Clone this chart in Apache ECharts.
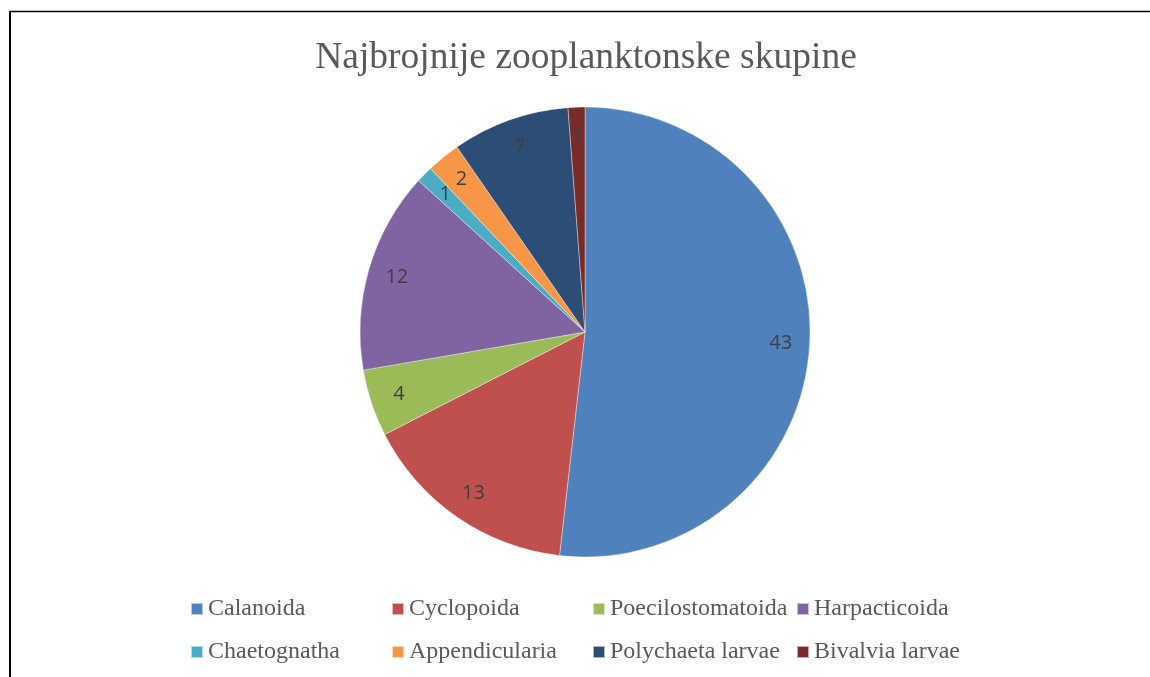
<!DOCTYPE html>
<html>
<head>
<meta charset="utf-8">
<script src="https://cdn.jsdelivr.net/npm/echarts@6/dist/echarts.min.js"></script>
<style>
  html, body { margin: 0; padding: 0; background: #fff; }
  #chart { width: 1150px; height: 677px; }
</style>
</head>
<body>
<div id="chart"></div>
<script>
var titleText = "Najbrojnije zooplanktonske skupine";
var groups = ["Calanoida", "Cyclopoida", "Poecilostomatoida", "Harpacticoida",
  "Chaetognatha", "Appendicularia", "Polychaeta larvae", "Bivalvia larvae"];
var counts = [43, 13, 4, 12, 1, 2, 7, 1];
var colors = ["#4F81BD", "#C0504D", "#9BBB59", "#8064A2",
  "#4BACC6", "#F79646", "#2C4D75", "#772C2A"];

var pieData = groups.map(function (g, i) {
  return { name: g, value: counts[i], itemStyle: { color: colors[i] } };
});

var serif = "'Liberation Serif', 'DejaVu Serif', serif";
var legendCols = [185, 386, 587, 791];
var legendRows = [592, 635];

// one legend per item so the entries sit on a fixed grid
var legends = groups.map(function (g, i) {
  return {
    data: [g],
    left: legendCols[i % 4],
    top: legendRows[Math.floor(i / 4)],
    icon: "rect",
    itemWidth: 12,
    itemHeight: 12,
    selectedMode: false,
    textStyle: {
      fontFamily: serif,
      fontSize: 24,
      color: "#595959"
    }
  };
});

var chart = echarts.init(document.getElementById("chart"));
var option = {
  animation: false,
  color: colors,
  title: {
    text: titleText,
    left: 581,
    textAlign: "center",
    top: 34,
    textStyle: {
      fontFamily: serif,
      fontSize: 37.5,
      fontWeight: "normal",
      color: "#595959"
    }
  },
  legend: legends,
  graphic: [
    { type: "line", shape: { x1: 10, y1: 11.5, x2: 1150, y2: 11.5 }, style: { stroke: "#000", lineWidth: 1.5 } },
    { type: "line", shape: { x1: 10, y1: 11, x2: 10, y2: 677 }, style: { stroke: "#000", lineWidth: 2 } }
  ],
  series: [
    {
      type: "pie",
      center: [585, 332],
      radius: [0, 225],
      startAngle: 90,
      clockwise: true,
      label: { show: false },
      labelLine: { show: false },
      itemStyle: { borderColor: "rgba(255,255,255,0.6)", borderWidth: 0.6 },
      data: pieData
    },
    {
      // invisible ring used only to place the value labels near the rim
      type: "pie",
      center: [585, 332],
      radius: [166, 220],
      startAngle: 90,
      clockwise: true,
      silent: true,
      legendHoverLink: false,
      avoidLabelOverlap: false,
      itemStyle: { color: "rgba(0,0,0,0)", borderWidth: 0 },
      label: {
        show: true,
        position: "inside",
        formatter: "{c}",
        fontFamily: "'Open Sans', 'Liberation Sans', sans-serif",
        fontSize: 20,
        color: "#404040"
      },
      labelLayout: { hideOverlap: false },
      labelLine: { show: false },
      data: groups.map(function (g, i) { return { name: g, value: counts[i] }; })
    }
  ]
};
chart.setOption(option);
</script>
</body>
</html>
